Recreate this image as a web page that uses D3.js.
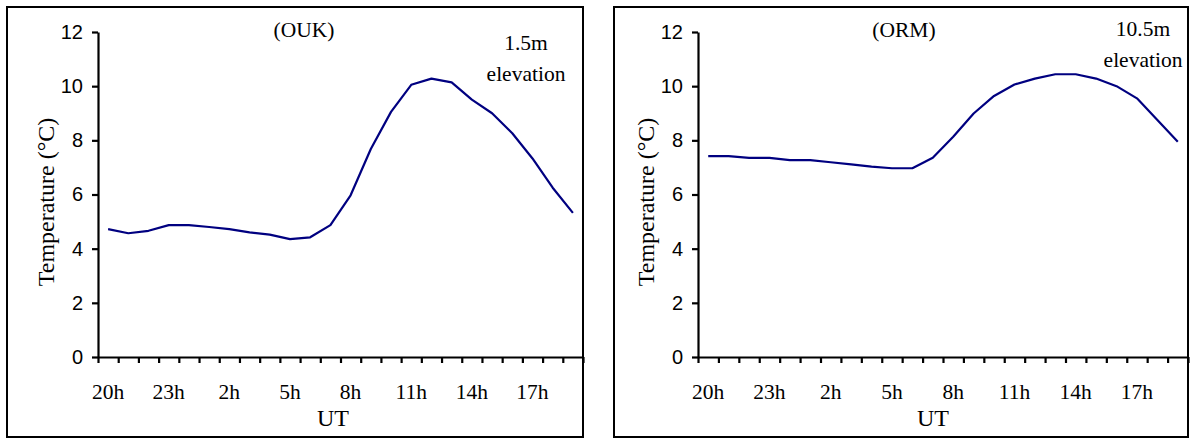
<!DOCTYPE html>
<html>
<head>
<meta charset="utf-8">
<script src="https://cdn.jsdelivr.net/npm/d3@7"></script>
<style>
  body { margin: 0; background: #fff; }
  svg { display: block; }
</style>
</head>
<body>
<svg id="chart" width="1195" height="439"></svg>
<script>
// hourly categories (UT), one band per hour
const hours = ["20h","21h","22h","23h","0h","1h","2h","3h","4h","5h","6h","7h",
               "8h","9h","10h","11h","12h","13h","14h","15h","16h","17h","18h","19h"];
const hourLabels = ["20h","23h","2h","5h","8h","11h","14h","17h"];
const yTicks = [0, 2, 4, 6, 8, 10, 12];

// temperature (°C)
const oukTemp = [4.72, 4.57, 4.66, 4.87, 4.87, 4.80, 4.72, 4.60, 4.52, 4.35, 4.42, 4.87,
                 5.97, 7.68, 9.05, 10.05, 10.28, 10.14, 9.50, 9.00, 8.26, 7.33, 6.25, 5.32];
const ormTemp = [7.42, 7.42, 7.35, 7.35, 7.27, 7.27, 7.19, 7.11, 7.03, 6.97, 6.97, 7.36,
                 8.13, 8.99, 9.64, 10.06, 10.28, 10.44, 10.44, 10.28, 10.00, 9.55, 8.75, 7.95];

const svg = d3.select("#chart");
const serif = "'Liberation Serif', 'Times New Roman', serif";
const sans = "'Liberation Sans', Arial, sans-serif";

const panels = [
  { title: "(OUK)", elev: ["1.5m", "elevation"], values: oukTemp,
    box: [7, 7, 583, 437], axisX: 98, elevX: 526, elevY: [50, 81] },
  { title: "(ORM)", elev: ["10.5m", "elevation"], values: ormTemp,
    box: [614, 7, 1188, 437], axisX: 698, elevX: 1143, elevY: [36, 67] }
];

const yTop = 32, yBottom = 357;

panels.forEach(p => {
  const [bx0, by0, bx1, by1] = p.box;

  // frame
  svg.append("rect")
    .attr("x", bx0).attr("y", by0)
    .attr("width", bx1 - bx0).attr("height", by1 - by0)
    .attr("fill", "none").attr("stroke", "#000").attr("stroke-width", 2);

  const x = d3.scaleBand().domain(hours).range([p.axisX, bx1]).paddingInner(0).paddingOuter(0);
  const xi = d3.scaleLinear().domain([0, hours.length]).range([p.axisX, bx1]);
  const y = d3.scaleLinear().domain([0, 12]).range([yBottom, yTop]);

  const g = svg.append("g");

  // x axis: ticks at band edges
  const xAxis = g.append("g")
    .attr("transform", `translate(0,${yBottom})`)
    .call(d3.axisBottom(xi).tickValues(d3.range(0, hours.length + 1)).tickFormat("").tickSize(6).tickSizeOuter(0));
  xAxis.select(".domain").attr("stroke-width", 2.2);
  xAxis.selectAll(".tick line").attr("stroke-width", 2.2);

  // hour labels every 3 bands
  g.selectAll(null)
    .data(hourLabels)
    .enter()
    .append("text")
    .attr("x", d => x(d) + x.bandwidth() / 2)
    .attr("y", 399)
    .attr("text-anchor", "middle")
    .style("font-family", serif)
    .style("font-size", "21.5px")
    .text(d => d);

  // y axis
  const yAxis = g.append("g")
    .attr("transform", `translate(${p.axisX},0)`)
    .call(d3.axisLeft(y).tickValues(yTicks).tickSize(6).tickSizeOuter(0).tickPadding(9));
  yAxis.select(".domain").attr("stroke-width", 2.2);
  yAxis.selectAll(".tick line").attr("stroke-width", 2.2);
  yAxis.selectAll(".tick text")
    .style("font-family", sans)
    .style("font-size", "20px")
    .attr("fill", "#000");

  // axis titles
  g.append("text")
    .attr("x", p.axisX + 235)
    .attr("y", 426)
    .attr("text-anchor", "middle")
    .style("font-family", serif)
    .style("font-size", "24px")
    .text("UT");

  g.append("text")
    .attr("transform", `translate(${p.axisX - 44},202) rotate(-90)`)
    .attr("text-anchor", "middle")
    .style("font-family", serif)
    .style("font-size", "24px")
    .text("Temperature (°C)");

  // station + elevation notes
  g.append("text")
    .attr("x", p.axisX + 206)
    .attr("y", 37)
    .attr("text-anchor", "middle")
    .style("font-family", serif)
    .style("font-size", "21.5px")
    .text(p.title);

  p.elev.forEach((t, i) => {
    g.append("text")
      .attr("x", p.elevX)
      .attr("y", p.elevY[i])
      .attr("text-anchor", "middle")
      .style("font-family", serif)
      .style("font-size", "21.5px")
      .text(t);
  });

  // temperature line
  const line = d3.line()
    .x((d, i) => x(hours[i]) + x.bandwidth() / 2)
    .y(d => y(d));

  g.append("path")
    .attr("fill", "none")
    .attr("stroke", "#000080")
    .attr("stroke-width", 2.2)
    .attr("stroke-linejoin", "round")
    .attr("d", line(p.values));
});
</script>
</body>
</html>
